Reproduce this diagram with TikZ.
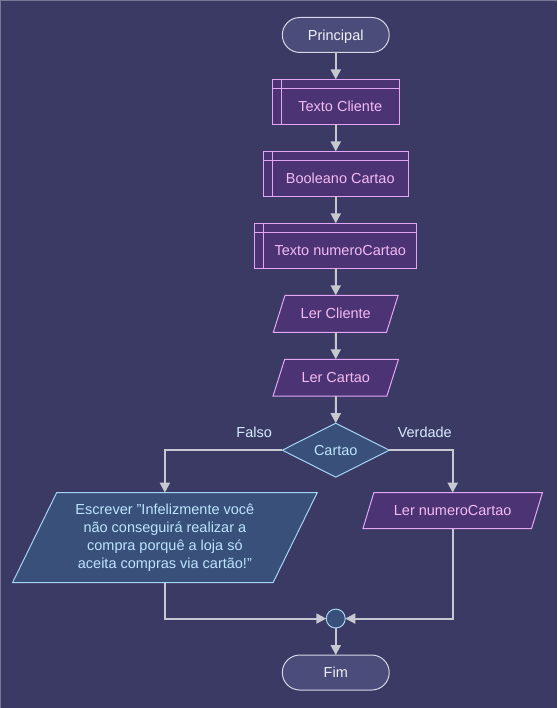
\documentclass[tikz,border=0pt]{standalone}
\usepackage{fontspec}
\setmainfont{Liberation Sans}
\usetikzlibrary{positioning,shapes.geometric,arrows.meta}
\definecolor{bg}{RGB}{58,58,100}
\definecolor{edge}{RGB}{120,120,150}
\definecolor{termfill}{RGB}{76,76,122}
\definecolor{termline}{RGB}{214,214,232}
\definecolor{termtext}{RGB}{240,240,248}
\definecolor{purfill}{RGB}{76,52,116}
\definecolor{purline}{RGB}{226,166,242}
\definecolor{purtext}{RGB}{244,186,244}
\definecolor{blufill}{RGB}{56,80,122}
\definecolor{bluline}{RGB}{168,212,246}
\definecolor{blutext}{RGB}{190,228,255}
\definecolor{arr}{RGB}{200,200,210}
\definecolor{lbltext}{RGB}{214,236,255}

\begin{document}
\begin{tikzpicture}[x=1pt,y=1pt,node distance=27pt,
font=\fontsize{14.5}{18}\selectfont,
every node/.append style={outer sep=0pt},
term/.style={rectangle,rounded corners=17.5pt,draw=termline,fill=termfill,text=termtext,line width=1pt,minimum width=107pt,minimum height=35pt,text height=10.5pt,text depth=0pt},
decl/.style={rectangle,draw=purline,fill=purfill,text=purtext,line width=1pt,minimum height=45pt,text height=21pt,text depth=2pt,execute at begin node={\hspace*{9pt}}},
io/.style={trapezium,trapezium left angle=63,trapezium right angle=117,trapezium stretches=true,draw=purline,fill=purfill,text=purtext,line width=1pt,minimum height=37pt},
iob/.style={io,draw=bluline,fill=blufill,text=blutext,align=center},
cond/.style={diamond,aspect=2,draw=bluline,fill=blufill,text=blutext,line width=1pt,minimum width=107pt,minimum height=54pt,inner sep=1pt},
dot/.style={circle,draw=bluline,fill=blufill,line width=1pt,minimum size=19pt,inner sep=0pt},
lbl/.style={text=lbltext},
line/.style={draw=arr,line width=2pt,-{Triangle[length=10pt,width=10pt]}}]
\fill[bg] (0,0) rectangle (557,708);
\draw[edge,line width=1pt] (0.5,0) -- (0.5,707.5) -- (557,707.5);

\node[term] (ini) at (336,673) {Principal};
\node[decl,minimum width=127pt,below=of ini] (d1) {Texto Cliente};
\node[decl,minimum width=145pt,below=of d1] (d2) {Booleano Cartao};
\node[decl,minimum width=162pt,below=of d2] (d3) {Texto numeroCartao};
\node[io,minimum width=126pt,below=of d3] (in1) {Ler Cliente};
\node[io,minimum width=126pt,below=of in1] (in2) {Ler Cartao};
\node[cond,below=of in2] (c1) {Cartao};
\node[iob,minimum width=306pt,minimum height=90pt] (out1) at (165,170)
  {Escrever "Infelizmente você\\ não conseguirá realizar a\\ compra porquê a loja só\\ aceita compras via cartão!"};
\node[io,minimum width=180pt,minimum height=36pt] (in3) at (453,197) {Ler numeroCartao};
\node[dot] (j1) at (336,89) {};
\node[term,below=of j1] (fim) {Fim};

% linhas internas das declaracoes
\foreach \D in {d1,d2,d3}
{\draw[purline,line width=1pt] ([yshift=-9pt]\D.north west) -- ([yshift=-9pt]\D.north east);
 \draw[purline,line width=1pt] ([xshift=9pt]\D.north west) -- ([xshift=9pt]\D.south west);
}

\foreach \A/\B in {ini/d1,d1/d2,d2/d3,d3/in1,in1/in2,in2/c1,j1/fim}
\draw[line] (\A) -- (\B);

\draw[line] (c1.west) -| node[lbl,pos=0.12,above=9pt] {Falso} (out1.north);
\draw[line] (c1.east) -| node[lbl,pos=0.28,above=9pt] {Verdade} (in3.north);
\draw[line] (out1.south) |- (j1.west);
\draw[line] (in3.south) |- (j1.east);
\end{tikzpicture}
\end{document}
